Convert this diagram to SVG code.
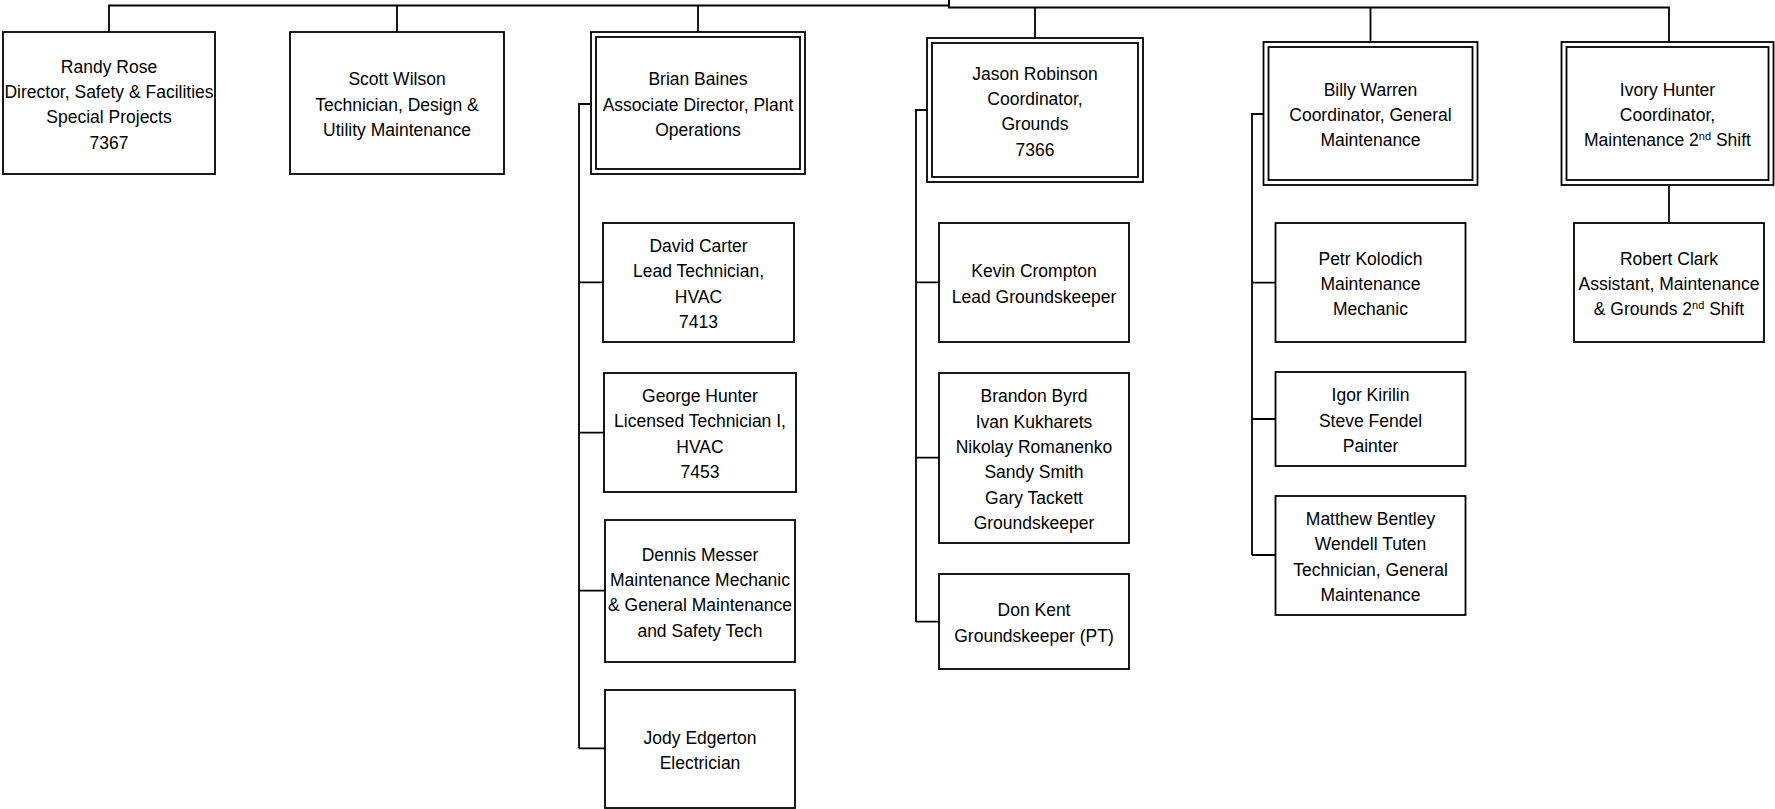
<svg xmlns="http://www.w3.org/2000/svg" width="1775" height="809" viewBox="0 0 1775 809">
<style>
.box{fill:#fff;stroke:#000;stroke-width:1.8}
.in{fill:none;stroke:#000;stroke-width:1.8}
.ln{fill:none;stroke:#000;stroke-width:1.8}
text{font-family:"Liberation Sans",Arial,sans-serif;font-size:17.5px;fill:#000;text-anchor:middle}
.sup{font-size:11px}
</style>
<rect width="1775" height="809" fill="#fff"/>
<g id="connectors">
<path class="ln" d="M949,0 V5.5 H109 V32"/>
<path class="ln" d="M949,0 V7.5 H1669 V42"/>
<path class="ln" d="M397,5.5 V32 M698,5.5 V32 M1035,7.5 V38 M1370.5,7.5 V42"/>
<path class="ln" d="M591,104 H579 V748.3 M579,282.3 H603 M579,432.7 H604 M579,590.7 H605 M579,748.3 H605"/>
<path class="ln" d="M927,110 H916 V621.7 M916,282.3 H939 M916,457.7 H939 M916,621.7 H939"/>
<path class="ln" d="M1263.5,114 H1252 V555 M1252,282.7 H1275.5 M1252,419 H1275.5 M1252,555 H1275.5"/>
<path class="ln" d="M1669,185 V223"/>
</g>
<g id="randy-rose">
<rect class="box" x="3" y="32" width="212" height="142"/>
<text><tspan x="109" y="72.6">Randy Rose</tspan><tspan x="109" y="97.9">Director, Safety &amp; Facilities</tspan><tspan x="109" y="123.2">Special Projects</tspan><tspan x="109" y="148.5">7367</tspan></text>
</g>
<g id="scott-wilson">
<rect class="box" x="290" y="32" width="214" height="142"/>
<text><tspan x="397" y="85.2">Scott Wilson</tspan><tspan x="397" y="110.5">Technician, Design &amp;</tspan><tspan x="397" y="135.8">Utility Maintenance</tspan></text>
</g>
<g id="brian-baines">
<rect class="box" x="591" y="32" width="214" height="142"/>
<rect class="in" x="596" y="37" width="204" height="132"/>
<text><tspan x="698" y="85.2">Brian Baines</tspan><tspan x="698" y="110.5">Associate Director, Plant</tspan><tspan x="698" y="135.8">Operations</tspan></text>
</g>
<g id="jason-robinson">
<rect class="box" x="927" y="38" width="216" height="144"/>
<rect class="in" x="932" y="43" width="206" height="134"/>
<text><tspan x="1035" y="79.6">Jason Robinson</tspan><tspan x="1035" y="104.9">Coordinator,</tspan><tspan x="1035" y="130.2">Grounds</tspan><tspan x="1035" y="155.5">7366</tspan></text>
</g>
<g id="billy-warren">
<rect class="box" x="1263.5" y="42" width="214" height="143"/>
<rect class="in" x="1268.5" y="47" width="204" height="133"/>
<text><tspan x="1370.5" y="95.7">Billy Warren</tspan><tspan x="1370.5" y="121">Coordinator, General</tspan><tspan x="1370.5" y="146.3">Maintenance</tspan></text>
</g>
<g id="ivory-hunter">
<rect class="box" x="1561.5" y="42" width="212" height="143"/>
<rect class="in" x="1566.5" y="47" width="202" height="133"/>
<text><tspan x="1667.5" y="95.7">Ivory Hunter</tspan><tspan x="1667.5" y="121">Coordinator,</tspan><tspan x="1667.5" y="146.3">Maintenance 2<tspan class="sup" dy="-6">nd</tspan><tspan dy="6"> Shift</tspan></tspan></text>
</g>
<g id="david-carter">
<rect class="box" x="603" y="223" width="191" height="119"/>
<text><tspan x="698.5" y="252.1">David Carter</tspan><tspan x="698.5" y="277.4">Lead Technician,</tspan><tspan x="698.5" y="302.7">HVAC</tspan><tspan x="698.5" y="328">7413</tspan></text>
</g>
<g id="george-hunter">
<rect class="box" x="604" y="373" width="192" height="119"/>
<text><tspan x="700" y="402.1">George Hunter</tspan><tspan x="700" y="427.4">Licensed Technician I,</tspan><tspan x="700" y="452.7">HVAC</tspan><tspan x="700" y="478">7453</tspan></text>
</g>
<g id="dennis-messer">
<rect class="box" x="605" y="520" width="190" height="142"/>
<text><tspan x="700" y="560.6">Dennis Messer</tspan><tspan x="700" y="585.9">Maintenance Mechanic</tspan><tspan x="700" y="611.2">&amp; General Maintenance</tspan><tspan x="700" y="636.5">and Safety Tech</tspan></text>
</g>
<g id="jody-edgerton">
<rect class="box" x="605" y="690" width="190" height="118"/>
<text><tspan x="700" y="743.9">Jody Edgerton</tspan><tspan x="700" y="769.2">Electrician</tspan></text>
</g>
<g id="kevin-crompton">
<rect class="box" x="939" y="223" width="190" height="119"/>
<text><tspan x="1034" y="277.4">Kevin Crompton</tspan><tspan x="1034" y="302.7">Lead Groundskeeper</tspan></text>
</g>
<g id="groundskeepers">
<rect class="box" x="939" y="373" width="190" height="170"/>
<text><tspan x="1034" y="402.3">Brandon Byrd</tspan><tspan x="1034" y="427.6">Ivan Kukharets</tspan><tspan x="1034" y="452.9">Nikolay Romanenko</tspan><tspan x="1034" y="478.2">Sandy Smith</tspan><tspan x="1034" y="503.5">Gary Tackett</tspan><tspan x="1034" y="528.8">Groundskeeper</tspan></text>
</g>
<g id="don-kent">
<rect class="box" x="939" y="574" width="190" height="95"/>
<text><tspan x="1034" y="616.4">Don Kent</tspan><tspan x="1034" y="641.7">Groundskeeper (PT)</tspan></text>
</g>
<g id="petr-kolodich">
<rect class="box" x="1275.5" y="223" width="190" height="119"/>
<text><tspan x="1370.5" y="264.7">Petr Kolodich</tspan><tspan x="1370.5" y="290">Maintenance</tspan><tspan x="1370.5" y="315.3">Mechanic</tspan></text>
</g>
<g id="painters">
<rect class="box" x="1275.5" y="372" width="190" height="94"/>
<text><tspan x="1370.5" y="401.2">Igor Kirilin</tspan><tspan x="1370.5" y="426.5">Steve Fendel</tspan><tspan x="1370.5" y="451.8">Painter</tspan></text>
</g>
<g id="technicians">
<rect class="box" x="1275.5" y="496" width="190" height="119"/>
<text><tspan x="1370.5" y="525.1">Matthew Bentley</tspan><tspan x="1370.5" y="550.4">Wendell Tuten</tspan><tspan x="1370.5" y="575.7">Technician, General</tspan><tspan x="1370.5" y="601">Maintenance</tspan></text>
</g>
<g id="robert-clark">
<rect class="box" x="1574" y="223" width="190" height="119"/>
<text><tspan x="1669" y="264.7">Robert Clark</tspan><tspan x="1669" y="290">Assistant, Maintenance</tspan><tspan x="1669" y="315.3">&amp; Grounds 2<tspan class="sup" dy="-6">nd</tspan><tspan dy="6"> Shift</tspan></tspan></text>
</g>
</svg>
